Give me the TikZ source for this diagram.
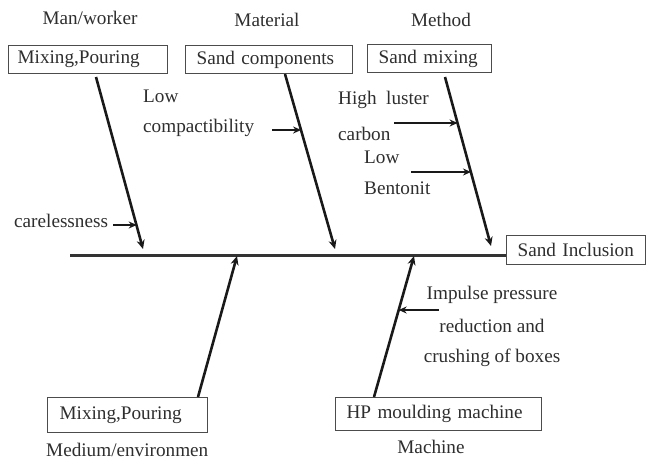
\documentclass[tikz,border=0pt]{standalone}
\usepackage{fontspec}
\setmainfont{Liberation Serif}
\usetikzlibrary{arrows.meta}
\begin{document}
\begin{tikzpicture}[x=1pt,y=-1pt,
  every node/.style={font=\fontsize{19.2}{22}\selectfont, text=black!82},
  box/.style={draw=black!70, line width=1.2pt, anchor=north west, inner ysep=0pt, align=left},
  lbl/.style={inner sep=0pt},
  bone/.style={line width=2.6pt, draw=black!90, -{Stealth[length=9pt,width=8pt]}},
  subarrow/.style={line width=2.2pt, draw=black!90, -{Stealth[length=8pt,width=7pt]}},
  spine/.style={line width=3pt, draw=black!80}]
\useasboundingbox (0,0) rectangle (648,463);

% category labels
\node[lbl] (man) at (90,18) {Man/worker};
\node[lbl] (mat) at (267,20) {Material};
\node[lbl] (met) at (441,20) {Method};

% top boxes
\node[box, minimum width=159pt, minimum height=28pt, inner xsep=9pt, text width=141pt] (b1) at (8,45) {\mbox{Mixing,Pouring}};
\node[box, minimum width=167pt, minimum height=28pt, inner xsep=11pt, text width=145pt] (b2) at (185,45) {\mbox{Sand components}};
\node[box, minimum width=124pt, minimum height=28pt, inner xsep=11pt, text width=102pt] (b3) at (367,44) {\mbox{Sand mixing}};

% effect box
\node[box, minimum width=139pt, minimum height=29pt, inner xsep=11pt, text width=117pt] (eff) at (506,235) {\mbox{Sand Inclusion}};

% bottom boxes
\node[box, minimum width=160pt, minimum height=35pt, inner xsep=12pt, text width=136pt] (b4) at (47,397) {\mbox{Mixing,Pouring}};
\node[box, minimum width=206pt, minimum height=33pt, inner xsep=11pt, text width=184pt] (b5) at (335,397) {\mbox{HP moulding machine}};

\node[lbl, anchor=west] (med) at (46,450) {Medium/environmen};
\node[lbl] (mac) at (431,447) {Machine};

% spine
\coordinate (sp0) at (70,255);
\draw[spine] (sp0) -- (eff.west |- sp0);

% bones
\coordinate (s1) at (96,77);   \coordinate (t1) at (143,249);
\coordinate (s2) at (285,74);  \coordinate (t2) at (335,249);
\coordinate (s3) at (445,77);  \coordinate (t3) at (491,246);
\coordinate (s4) at (198,397); \coordinate (t4) at (237,256);
\coordinate (s5) at (374,397); \coordinate (t5) at (414,256);
\draw[bone] (s1) -- (t1);
\draw[bone] (s2) -- (t2);
\draw[bone] (s3) -- (t3);
\draw[bone] (s4) -- (t4);
\draw[bone] (s5) -- (t5);

% points on bones
\path (s1) -- (t1) coordinate[pos=0.866] (c1);
\path (s2) -- (t2) coordinate[pos=0.322] (c2);
\path (s3) -- (t3) coordinate[pos=0.274] (c3);
\path (s3) -- (t3) coordinate[pos=0.565] (c4);
\path (s5) -- (t5) coordinate[pos=0.617] (c5);

% cause texts
\node[lbl, anchor=west] (care) at (14,221) {carelessness};
\node[lbl, anchor=west] (low1) at (143,96) {Low};
\node[lbl, anchor=west] (comp) at (143,128) {compactibility};
\node[lbl, anchor=west] (high) at (338,100) {High\ \ luster};
\node[lbl, anchor=west] (carb) at (338,134) {carbon};
\node[lbl, anchor=west] (low2) at (364,157) {Low};
\node[lbl, anchor=west] (bent) at (364,188) {Bentonit};
\node[lbl] (imp1) at (492,295) {Impulse pressure};
\node[lbl] (imp2) at (492,326) {reduction and};
\node[lbl] (imp3) at (492,358) {crushing of boxes};

% sub arrows
\coordinate (a1) at (113,225);
\coordinate (a2) at (272,130);
\coordinate (a3) at (394,123);
\coordinate (a4) at (411,172);
\coordinate (a5) at (439,310);
\draw[subarrow] (a1) -- (a1 -| c1);
\draw[subarrow] (a2) -- (a2 -| c2);
\draw[subarrow] (a3) -- (a3 -| c3);
\draw[subarrow] (a4) -- (a4 -| c4);
\draw[subarrow] (a5) -- (a5 -| c5);
\end{tikzpicture}
\end{document}
